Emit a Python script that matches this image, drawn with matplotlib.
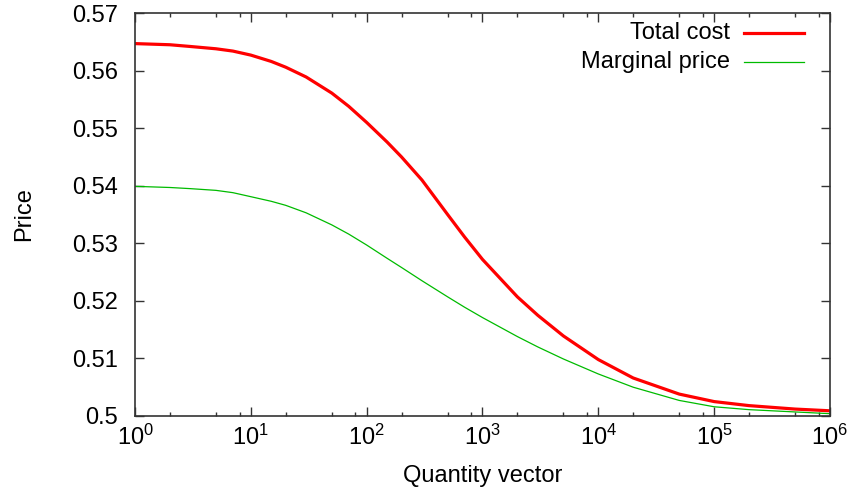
import matplotlib
matplotlib.use('Agg')
import matplotlib.pyplot as plt
import matplotlib.ticker as ticker

plt.rcParams['font.family'] = ['Liberation Sans', 'DejaVu Sans']
plt.rcParams['mathtext.fontset'] = 'custom'
plt.rcParams['mathtext.rm'] = 'Liberation Sans'
plt.rcParams['mathtext.it'] = 'Liberation Sans:italic'

# values
quantity = [1, 2, 3, 5, 7, 10, 15, 20, 30, 50, 70, 100, 150, 200, 300, 500, 700,
            1000, 2000, 3000, 5000, 10000, 20000, 50000, 100000, 200000, 500000, 1000000]
total_cost = [0.5647, 0.5645, 0.5642, 0.5638, 0.5634, 0.5627, 0.5616, 0.5606, 0.5589,
              0.5561, 0.5538, 0.5510, 0.5476, 0.5450, 0.5410, 0.5350, 0.5311,
              0.5272, 0.5207, 0.5175, 0.5139, 0.5098, 0.5066, 0.5038, 0.5025,
              0.5018, 0.5012, 0.5009]
marginal_price = [0.5399, 0.5397, 0.5395, 0.5392, 0.5388, 0.5381, 0.5373, 0.5366, 0.5353,
                  0.5332, 0.5316, 0.5297, 0.5274, 0.5258, 0.5235, 0.5207, 0.5189,
                  0.5171, 0.5138, 0.5120, 0.5099, 0.5073, 0.5050, 0.5027, 0.5016,
                  0.5011, 0.5007, 0.5004]

labels = ['Total cost', 'Marginal price']
colors = ['#ff0000', '#00bb00']
widths = [2.3, 0.9]

fig = plt.figure(figsize=(8.53, 4.98), dpi=100)
ax = fig.add_axes([0.1583, 0.1647, 0.8147, 0.809])

series = [total_cost, marginal_price]
for vals, c, w in zip(series, colors, widths):
    ax.plot(quantity, vals, color=c, lw=w, solid_capstyle='butt')

ax.set_xscale('log')
ax.set_xlim(1, 1e6)
ax.set_ylim(0.5, 0.57)
ax.yaxis.set_major_locator(ticker.MultipleLocator(0.01))
ax.yaxis.set_major_formatter(ticker.FuncFormatter(lambda v, p: ('%.2f' % v).rstrip('0')))
ax.xaxis.set_major_locator(ticker.LogLocator(base=10, numticks=10))
ax.xaxis.set_minor_locator(ticker.LogLocator(base=10, subs=[2, 5, 8], numticks=10))
ax.xaxis.set_minor_formatter(ticker.NullFormatter())

ax.tick_params(which='both', direction='in', top=True, right=True,
               labelsize=17, colors='#333333', labelcolor='black')
ax.tick_params(which='major', length=6.5, width=1)
ax.tick_params(which='minor', length=3, width=1)
ax.tick_params(axis='y', pad=12)
ax.tick_params(axis='x', pad=6)
for s in ax.spines.values():
    s.set_color('#333333')
    s.set_linewidth(1.2)

ax.set_xlabel('Quantity vector', fontsize=17, labelpad=11)
ax.set_ylabel('Price', fontsize=17, labelpad=27)

# gnuplot style key: right-aligned text followed by a line sample
rows = [0.950, 0.878]
for lab, c, w, y in zip(labels, colors, widths, rows):
    ax.text(0.856, y, lab, ha='right', va='center', fontsize=17, transform=ax.transAxes)
    ax.plot([0.876, 0.963], [y, y], color=c, lw=w, transform=ax.transAxes, clip_on=False)

fig.savefig('out.png', dpi=100)
